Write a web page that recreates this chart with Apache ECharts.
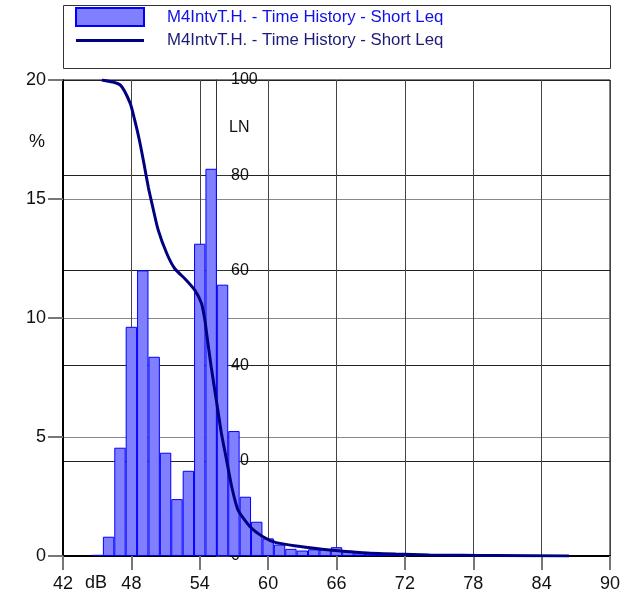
<!DOCTYPE html>
<html>
<head>
<meta charset="utf-8">
<script src="https://cdn.jsdelivr.net/npm/echarts@6/dist/echarts.min.js"></script>
<style>
  html, body { margin: 0; padding: 0; background: #fff; }
  #chart { width: 620px; height: 595px; }
</style>
</head>
<body>
<div id="chart"></div>
<script>
// histogram: 1 dB bins, percent of time
const barDb = [45, 46, 47, 48, 49, 50, 51, 52, 53, 54, 55, 56, 57, 58, 59, 60, 61, 62, 63, 64, 65, 66, 67, 68, 69, 70, 71, 72, 73];
const barPct = [0.05, 0.81, 4.55, 9.63, 12.0, 8.37, 4.34, 2.39, 3.58, 13.12, 16.27, 11.4, 5.25, 2.49, 1.44, 0.74, 0.48, 0.3, 0.23, 0.28, 0.28, 0.37, 0.22, 0.11, 0.1, 0.08, 0.07, 0.06, 0.05];

// cumulative LN curve
const lnDb = [45.4, 47.0, 47.9, 48.3, 48.7, 49.1, 49.5, 49.8, 50.35, 51.1, 51.8, 52.8, 53.55, 54.15, 54.45, 54.6, 55.0, 55.45, 55.9, 56.35, 56.8, 57.35, 58.4, 59.55, 60.7, 62.5, 65.4, 68.3, 71.2, 74.15, 77.0, 80.0, 86.4];
const lnVal = [100, 99.0, 95.1, 91.5, 87.4, 82.5, 77.3, 74.1, 68.5, 63.6, 60.4, 58.0, 55.9, 53.1, 49.6, 46.8, 39.8, 32.8, 25.8, 20.2, 14.6, 9.7, 6.2, 4.05, 2.8, 2.1, 1.26, 0.7, 0.42, 0.21, 0.15, 0.1, 0];

const seriesName = 'M4IntvT.H. - Time History - Short Leq';
const font = 'Liberation Sans, Arial, sans-serif';

const gridLeft = 63, gridRight = 10, gridTop = 80, gridBottom = 39;
const xMin = 42, xMax = 90;
const plotW = 620 - gridLeft - gridRight;
const binW = plotW / (xMax - xMin);

const chart = echarts.init(document.getElementById('chart'));

chart.setOption({
  animation: false,
  textStyle: { fontFamily: font },
  grid: {
    left: gridLeft, right: gridRight, top: gridTop, bottom: gridBottom,
    outerBoundsMode: 'none',
    show: true, borderColor: '#000', borderWidth: 1
  },
  legend: {
    orient: 'vertical',
    left: 75, top: 7, padding: 0,
    itemWidth: 68, itemHeight: 18, itemGap: 5,
    selectedMode: false,
    formatter: n => n.trim(),
    textStyle: { fontFamily: font, fontSize: 16.8, padding: [0, 0, 2, 18] },
    data: [
      { name: seriesName, icon: 'rect', textStyle: { color: '#1010e8' } },
      { name: seriesName + ' ', icon: 'path://M0,0H71V3H0Z', textStyle: { color: '#1c1c78' } }
    ]
  },
  xAxis: {
    type: 'value', min: xMin, max: xMax, interval: 6,
    axisLine: { onZero: false, lineStyle: { color: '#000', width: 2 } },
    axisTick: { length: 14, lineStyle: { color: '#777', width: 2 } },
    axisLabel: { fontSize: 18, color: '#111', margin: 19, fontFamily: font },
    splitLine: { show: true, lineStyle: { color: '#444', width: 1 } }
  },
  yAxis: [
    {
      type: 'value', min: 0, max: 20, interval: 5, position: 'left',
      axisLine: { show: true, onZero: false, lineStyle: { color: '#000', width: 2 } },
      axisTick: { show: true, length: 15, lineStyle: { color: '#777', width: 2 } },
      axisLabel: { fontSize: 18, color: '#111', margin: 17, fontFamily: font },
      splitLine: { show: true, lineStyle: { color: '#888', width: 1 } }
    },
    {
      type: 'value', min: 0, max: 100, interval: 20, position: 'right',
      offset: -394,
      axisLine: { show: true, onZero: false, lineStyle: { color: '#333', width: 1 } },
      axisTick: { show: true, length: 14, lineStyle: { color: '#333', width: 1 } },
      axisLabel: { fontSize: 16, color: '#111', margin: 15, fontFamily: font },
      splitLine: { show: true, lineStyle: { color: '#222', width: 1 } }
    }
  ],
  graphic: [
    {
      type: 'rect', z: 100,
      shape: { x: 63.5, y: 5.5, width: 547, height: 63 },
      style: { fill: 'none', stroke: '#333', lineWidth: 1 }
    },
    { type: 'text', left: 29, top: 133, style: { text: '%', fontSize: 18, fill: '#111', fontFamily: font } },
    { type: 'text', left: 229, top: 120, style: { text: 'LN', fontSize: 16, fill: '#111', fontFamily: font } },
    { type: 'text', left: 85, top: 574, style: { text: 'dB', fontSize: 18, fill: '#111', fontFamily: font } }
  ],
  series: [
    {
      name: seriesName,
      type: 'bar',
      yAxisIndex: 0,
      barWidth: binW,
      itemStyle: { color: '#8080ff', borderColor: '#0000ff', borderWidth: 1 },
      data: barDb.map((d, i) => [d, barPct[i]])
    },
    {
      name: seriesName + ' ',
      type: 'line',
      yAxisIndex: 1,
      symbol: 'none',
      smooth: 0.2,
      lineStyle: { color: '#000080', width: 3 },
      itemStyle: { color: '#000080' },
      data: lnDb.map((d, i) => [d, lnVal[i]])
    }
  ]
});
</script>
</body>
</html>
